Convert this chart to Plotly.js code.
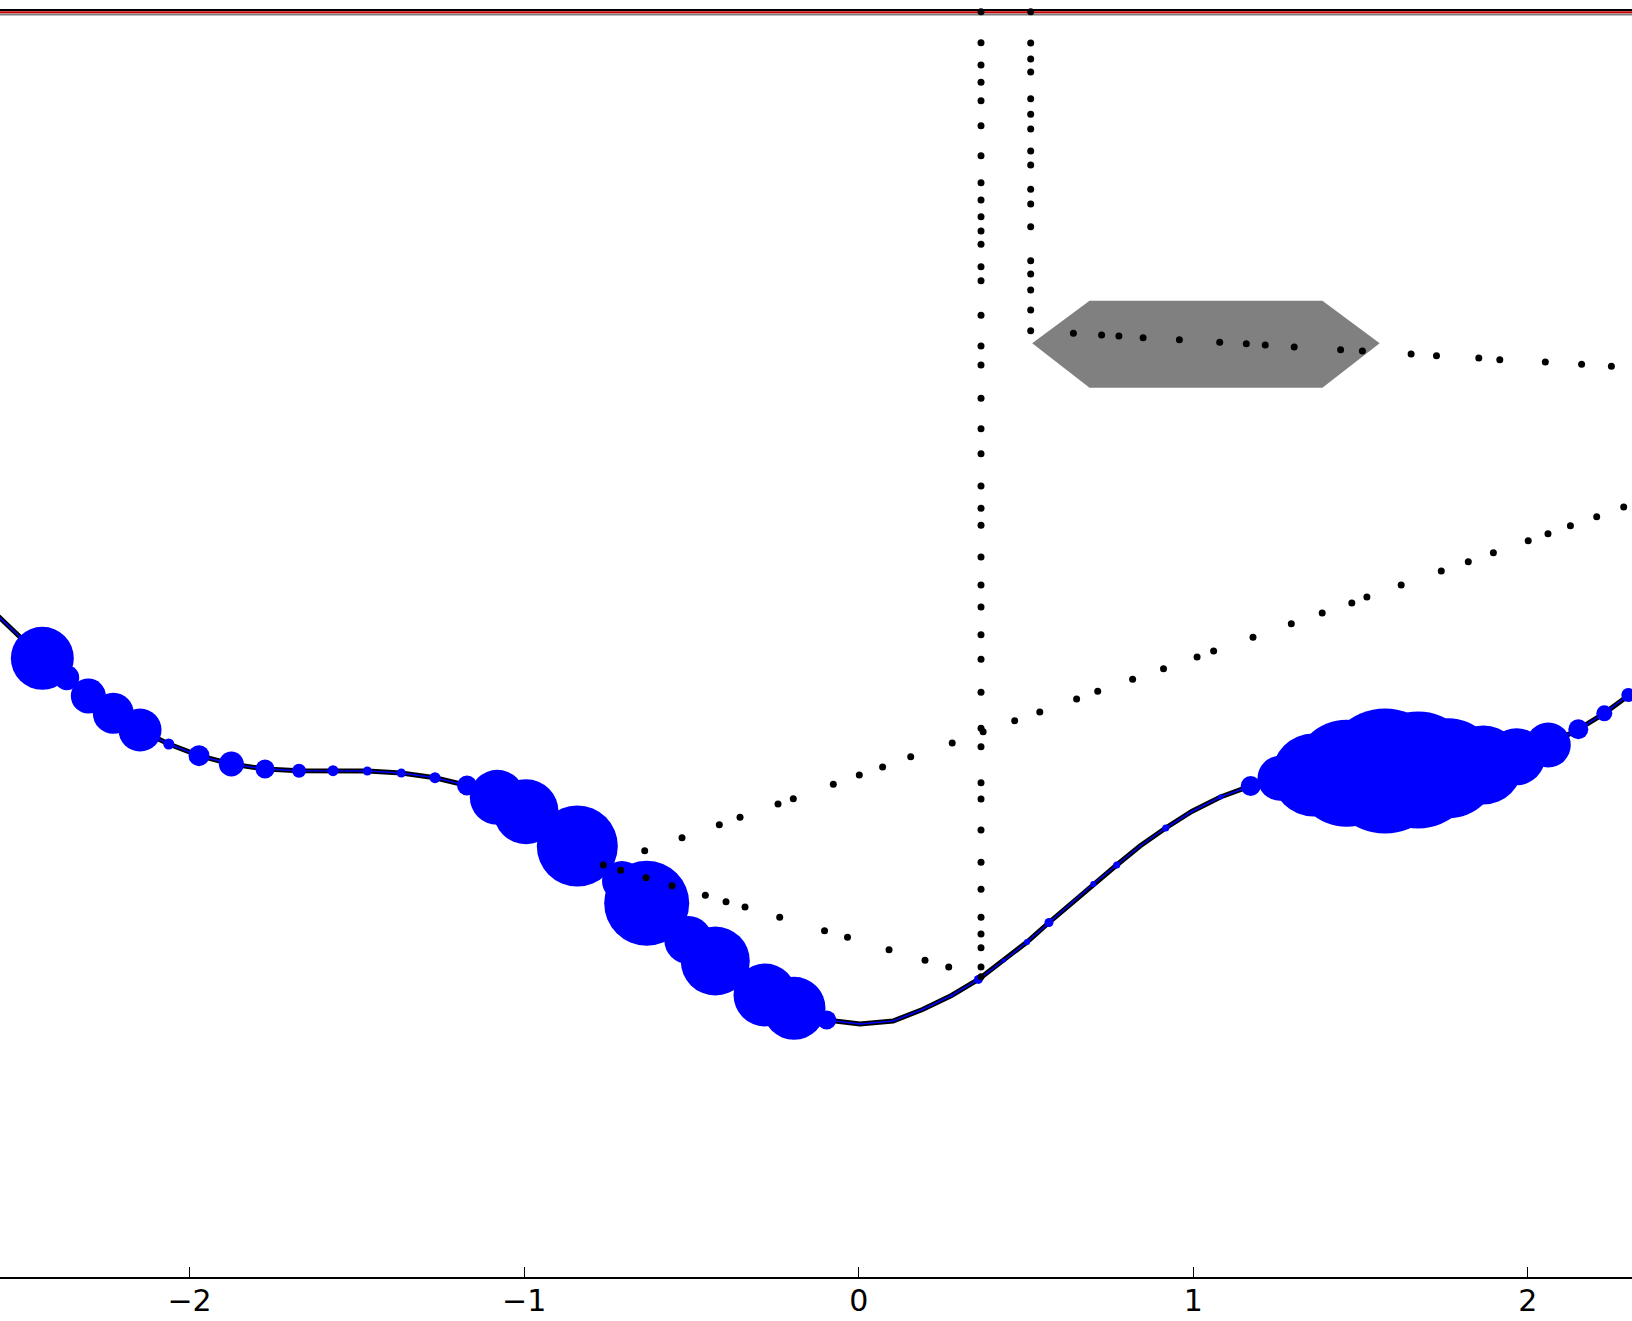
<!DOCTYPE html>
<html>
<head>
<meta charset="utf-8">
<script src="https://cdn.plot.ly/plotly-3.0.1.min.js"></script>
<style>
html,body{margin:0;padding:0;background:#fff;}
#chart{width:1632px;height:1321px;}
</style>
</head>
<body>
<div id="chart"></div>
<script>
// ---- main curve (polyline with bubble markers) ----
var curveX = [-2.5753,-2.5065,-2.4399,-2.3670,-2.3024,-2.2277,-2.1479,-2.0621,-1.9716,-1.8750,
  -1.7743,-1.6727,-1.5711,-1.4686,-1.3670,-1.2663,-1.1706,-1.0801,-0.9943,-0.9175,
  -0.8410,-0.7731,-0.7074,-0.6336,-0.5699,-0.5093,-0.4286,-0.3547,-0.2800,-0.1934,
  -0.0956,0.0039,0.1025,0.1907,0.2773,0.3577,0.4336,0.5030,0.5687,0.6345,
  0.7011,0.7711,0.8407,0.9175,0.9952,1.0813,1.1715,1.2591,1.3586,1.4584,
  1.5729,1.6724,1.7621,1.8667,1.9665,2.0609,2.1506,2.2283,2.3000,2.3799];
var curveY = [6.62,6.40,6.187,5.993,5.81,5.637,5.47,5.33,5.213,5.13,
  5.08,5.063,5.063,5.06,5.04,4.993,4.915,4.797,4.653,4.48,
  4.31,4.13,3.96,3.737,3.55,3.37,3.16,2.99,2.82,2.687,
  2.57,2.53,2.56,2.675,2.815,2.976,3.165,3.35,3.545,3.737,
  3.93,4.12,4.31,4.49,4.655,4.80,4.91,4.987,5.02,5.037,
  5.06,5.07,5.087,5.12,5.203,5.32,5.477,5.637,5.82,6.01];
var curveWeight = [0,0,63,25,35,41,43,11,21,25,
  19,14,11,9,9,11,20,55,65,15,
  81,15,40,85,20,48,69,15,63,63,
  19,2,2,2,3,9,4,6,9,2,
  6,7,2,7,2,5,20,45,83,107,
  125,117,100,79,57,45,20,16,14,10];

// ---- dotted tracks ----
var colAX = 0.3655;
var colAY = [12.653,12.343,12.12,11.947,11.763,11.513,11.213,10.943,10.77,10.603,
  10.46,10.327,10.103,9.963,9.617,9.31,9.12,8.787,8.482,8.232,
  7.91,7.687,7.517,7.20,6.92,6.70,6.423,6.177,5.847,5.487,
  5.303,4.943,4.78,4.47,4.147,3.877,3.597,3.43,3.293,3.10,3.003];
var colBX = 0.5140;
var colBY = [12.653,12.34,12.18,12.05,11.783,11.627,11.48,11.26,11.12,10.877,
  10.73,10.503,10.163,10.03,9.87,9.67,9.463];
var flatX = [0.6416,0.7259,0.7776,0.8500,0.9584,1.0789,1.1584,1.2149,1.3015,1.4402,
  1.5053,1.6509,1.7268,1.8532,1.9160,2.0520,2.1605,2.2495];
var flatY = [9.437,9.42,9.41,9.393,9.373,9.347,9.333,9.32,9.30,9.273,
  9.26,9.23,9.213,9.19,9.173,9.15,9.127,9.107];
var lowX = [-0.7633,-0.7113,-0.6357,-0.5580,-0.4584,-0.3966,-0.3398,-0.2361,-0.1022,-0.0335,0.0906,0.1981,0.2690];
var lowY = [4.12,4.067,3.993,3.913,3.817,3.753,3.70,3.597,3.463,3.398,3.273,3.167,3.10];
var upX = [-0.6396,-0.5281,-0.4166,-0.3547,-0.2412,-0.1955,-0.0759,0.0018,0.0714,0.1554,
  0.2794,0.3718,0.4662,0.5412,0.6512,0.7143,0.8186,0.9109,1.0113,1.0607,
  1.1784,1.2929,1.3852,1.4737,1.5188,1.6213,1.7411,1.8218,1.8968,2.0009,
  2.0600,2.1270,2.2056,2.2863];
var upY = [4.263,4.393,4.523,4.597,4.73,4.783,4.927,5.02,5.099,5.203,
  5.34,5.453,5.563,5.65,5.78,5.857,5.977,6.083,6.20,6.26,
  6.397,6.533,6.64,6.74,6.80,6.92,7.06,7.153,7.243,7.363,
  7.433,7.513,7.603,7.70];

// ---- grey hexagon ----
var hexX = [0.5185,0.6898,1.3858,1.5570,1.3858,0.6898,0.5185];
var hexY = [9.337,9.763,9.763,9.337,8.893,8.893,9.337];

// ---- top band ----
var bandX = [-2.6,2.4];
var bandBlackY = [12.670,12.670];
var bandRedY = [12.648,12.648];
var bandGreyY = [12.625,12.625];

// ---- axis ----
var xRange = [-2.5664,2.3111];
var yRange = [0,12.77];
var tickVals = [-2,-1,0,1,2];

function repeatX(v,n){var a=[];for(var i=0;i<n;i++)a.push(v);return a;}

var dotStyle = {color:'#000000', size:7, opacity:1, line:{width:0}};
var traces = [
  {x:bandX,y:bandGreyY,mode:'lines',line:{color:'#7f7f7f',width:1.8},hoverinfo:'skip'},
  {x:bandX,y:bandBlackY,mode:'lines',line:{color:'#000000',width:1.8},hoverinfo:'skip'},
  {x:bandX,y:bandRedY,mode:'lines',line:{color:'#c80000',width:2},hoverinfo:'skip'},
  {x:hexX,y:hexY,mode:'lines',fill:'toself',fillcolor:'#808080',line:{width:0,color:'#808080'},hoverinfo:'skip'},
  {x:curveX,y:curveY,mode:'lines',line:{color:'#000000',width:5},hoverinfo:'skip'},
  {x:curveX,y:curveY,mode:'lines',line:{color:'#0000ff',width:1.5},hoverinfo:'skip'},
  {x:curveX,y:curveY,mode:'markers',
    marker:{color:'#0000ff',size:curveWeight,sizemode:'diameter',opacity:1,line:{width:0}},hoverinfo:'skip'},
  {x:repeatX(colAX,colAY.length),y:colAY,mode:'markers',marker:dotStyle,hoverinfo:'skip'},
  {x:repeatX(colBX,colBY.length),y:colBY,mode:'markers',marker:dotStyle,hoverinfo:'skip'},
  {x:flatX,y:flatY,mode:'markers',marker:dotStyle,hoverinfo:'skip'},
  {x:lowX,y:lowY,mode:'markers',marker:dotStyle,hoverinfo:'skip'},
  {x:upX,y:upY,mode:'markers',marker:dotStyle,hoverinfo:'skip'}
];

var layout = {
  width:1632, height:1321,
  margin:{l:0,r:0,t:0,b:44,pad:0},
  paper_bgcolor:'#ffffff', plot_bgcolor:'#ffffff',
  showlegend:false,
  font:{family:'DejaVu Sans, sans-serif', color:'#000000'},
  xaxis:{range:xRange, showgrid:false, zeroline:false, showline:true, linecolor:'#000000', linewidth:2,
    ticks:'inside', ticklen:10, tickwidth:1, tickcolor:'#000000',
    tickvals:tickVals, tickfont:{family:'DejaVu Sans', size:30, color:'#000000'},
    ticklabelstandoff:-4, fixedrange:true},
  yaxis:{range:yRange, visible:false, showgrid:false, zeroline:false, fixedrange:true}
};

Plotly.newPlot('chart', traces, layout, {staticPlot:true, displayModeBar:false});
</script>
</body>
</html>
